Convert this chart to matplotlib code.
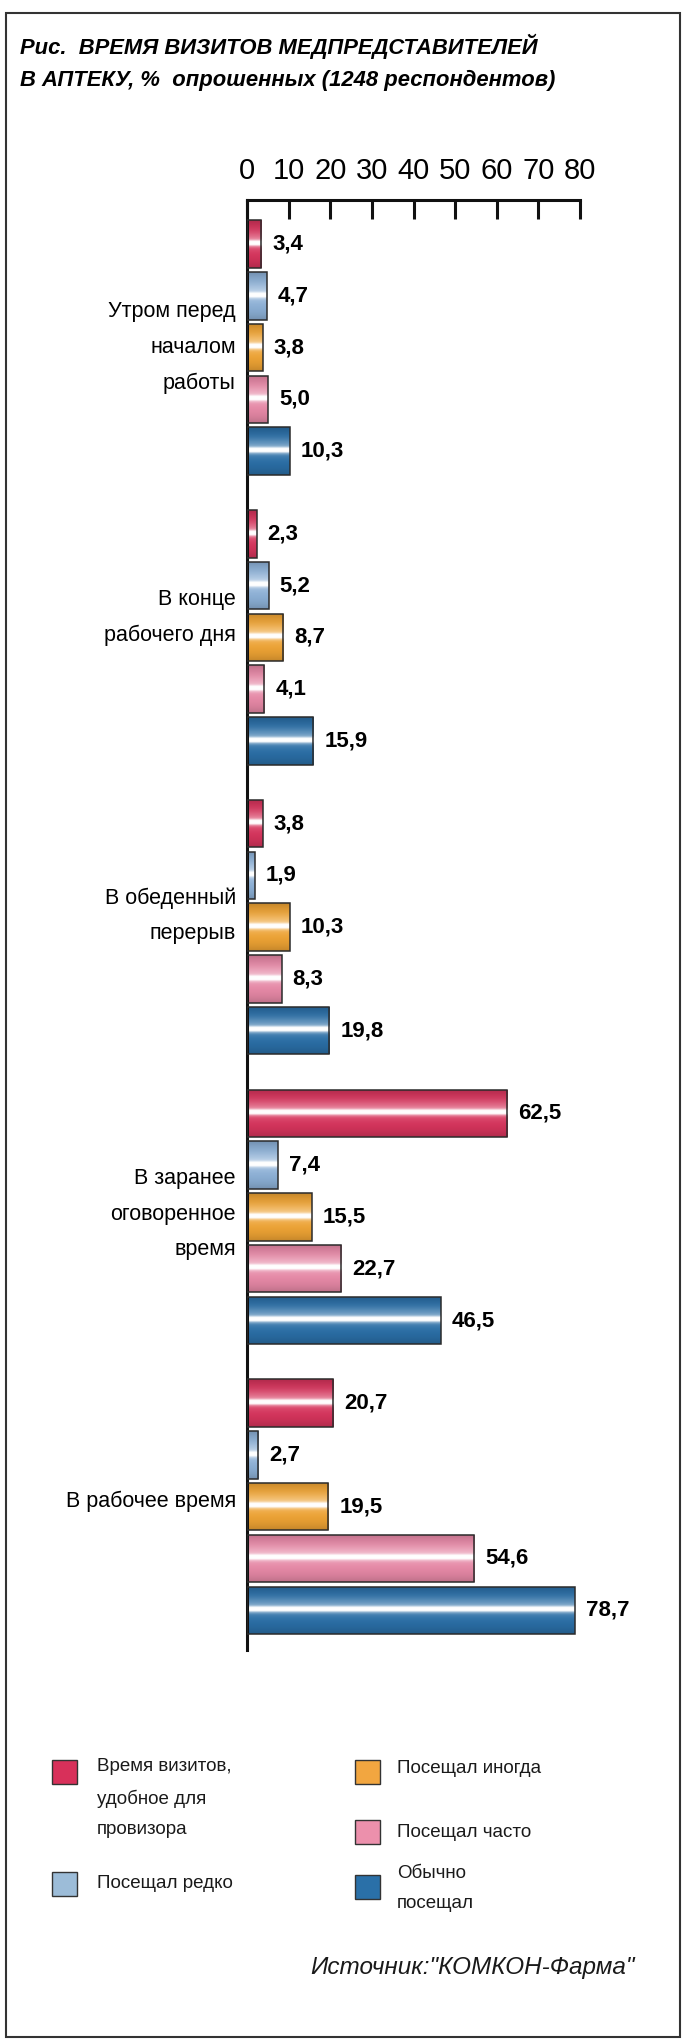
import numpy as np
import matplotlib
matplotlib.use("Agg")
import matplotlib.pyplot as plt
from matplotlib.patches import Rectangle
from matplotlib.colors import to_rgb

# данные
categories = ["Утром перед\nначалом\nработы",
              "В конце\nрабочего дня",
              "В обеденный\nперерыв",
              "В заранее\nоговоренное\nвремя",
              "В рабочее время"]
series_names = ["Время визитов,\nудобное для\nпровизора",
                "Посещал редко",
                "Посещал иногда",
                "Посещал часто",
                "Обычно\nпосещал"]
convenient = [3.4, 2.3, 3.8, 62.5, 20.7]
rarely = [4.7, 5.2, 1.9, 7.4, 2.7]
sometimes = [3.8, 8.7, 10.3, 15.5, 19.5]
often = [5.0, 4.1, 8.3, 22.7, 54.6]
usually = [10.3, 15.9, 19.8, 46.5, 78.7]
series = [convenient, rarely, sometimes, often, usually]
x_ticks = [0, 10, 20, 30, 40, 50, 60, 70, 80]

bar_colors = ["#d6345c", "#8cb0d6", "#eea334", "#e688a6", "#2a6ea6"]
legend_colors = ["#d8305a", "#9cbcd8", "#f2a640", "#ec90ac", "#2a70a8"]

W, H = 688, 2042
REG = ["Liberation Sans", "DejaVu Sans"]
plt.rcParams["font.family"] = REG


def fx(x):
    return x / W


def fy(y):
    return 1 - y / H


def shade(rgb, n=80):
    # горизонтальный блик по середине столбика
    t = np.linspace(0, 1, n)
    w = 0.95 * np.exp(-((t - 0.48) / 0.06) ** 2) + 0.35 * np.exp(-((t - 0.42) / 0.18) ** 2)
    w = np.clip(w, 0, 1)
    d = 0.18 * np.abs(2 * t - 1) ** 3
    col = (np.array(rgb)[None, :] * (1 - w[:, None]) + w[:, None]) * (1 - d[:, None])
    return np.clip(col, 0, 1)[:, None, :]


fig = plt.figure(figsize=(W / 100, H / 100), dpi=100)
fig.patch.set_facecolor("white")

# рамка
fig.add_artist(Rectangle((fx(6), fy(2037)), fx(674), (2037 - 13) / H, fill=False,
                         lw=1.5, ec="#333333", transform=fig.transFigure))

# заголовок
fig.text(fx(20), fy(46), "Рис.  ВРЕМЯ ВИЗИТОВ МЕДПРЕДСТАВИТЕЛЕЙ", ha="left", va="center",
         fontsize=15.8, fontweight="bold", fontstyle="italic")
fig.text(fx(20), fy(80), "В АПТЕКУ, %  опрошенных (1248 респондентов)", ha="left", va="center",
         fontsize=15.8, fontweight="bold", fontstyle="italic")

pitch = 51.8
group_step = 5.594
bar_h = 0.917
y0_px = 244
ax = fig.add_axes([fx(247), fy(1650), (580 - 247) / W, (1650 - 200) / H])

label_shift = [0.0, -0.38, -0.22, -0.05, -0.1]

for j, vals in enumerate(series):
    pos = [i * group_step + j for i in range(len(categories))]
    bars = ax.barh(pos, vals, height=bar_h, color=bar_colors[j], zorder=2)
    for p in bars:
        x0, yb = p.get_xy()
        im = ax.imshow(shade(to_rgb(bar_colors[j])), extent=(x0, x0 + p.get_width(), yb + p.get_height(), yb),
                       aspect="auto", interpolation="bilinear", zorder=2.1)
        im.set_clip_path(p)
    ax.barh(pos, vals, height=bar_h, fill=False, edgecolor="#2b2b2b", linewidth=1.1, zorder=3)
    for v, y in zip(vals, pos):
        ax.annotate(f"{v:.1f}".replace(".", ","), xy=(v, y), xytext=(8, 0),
                    textcoords="offset points", ha="left", va="center",
                    fontsize=16, fontweight="bold", annotation_clip=False)

for i, cat in enumerate(categories):
    yc = i * group_step + 2 + label_shift[i]
    ax.annotate(cat, xy=(0, yc), xytext=(-8, 0), textcoords="offset points",
                ha="right", va="center", multialignment="right",
                fontsize=15.5, linespacing=1.9, annotation_clip=False)

ax.set_xlim(0, 80)
ax.set_ylim((1650 - y0_px) / pitch, (200 - y0_px) / pitch)
ax.set_xticks(x_ticks)
ax.set_xticklabels([str(t) for t in x_ticks])
ax.xaxis.tick_top()
ax.tick_params(axis="x", direction="in", length=14, width=2.2, pad=11,
               labelsize=21, color="#111111")
ax.set_yticks([])
for s in ["right", "bottom"]:
    ax.spines[s].set_visible(False)
for s in ["top", "left"]:
    ax.spines[s].set_linewidth(2.2)
    ax.spines[s].set_color("#111111")
ax.set_facecolor("none")

# легенда
legend_items = [
    (0, 52, 1760, 97, 1798),
    (1, 52, 1872, 97, 1883),
    (2, 355, 1760, 397, 1768),
    (3, 355, 1820, 397, 1832),
    (4, 355, 1875, 397, 1888),
]
for k, sx, sy, tx, ty in legend_items:
    fig.add_artist(Rectangle((fx(sx), fy(sy + 24)), 25 / W, 24 / H, fc=legend_colors[k],
                             ec="#333333", lw=1.0, transform=fig.transFigure))
    fig.text(fx(tx), fy(ty), series_names[k], ha="left", va="center", fontsize=13.5,
             linespacing=2.0, color="#1a1a1a")

fig.text(fx(310), fy(1967), "Источник:\"КОМКОН-Фарма\"", ha="left", va="center",
         fontsize=17.5, fontstyle="italic", color="#1a1a1a")

fig.savefig("out.png", dpi=100)
